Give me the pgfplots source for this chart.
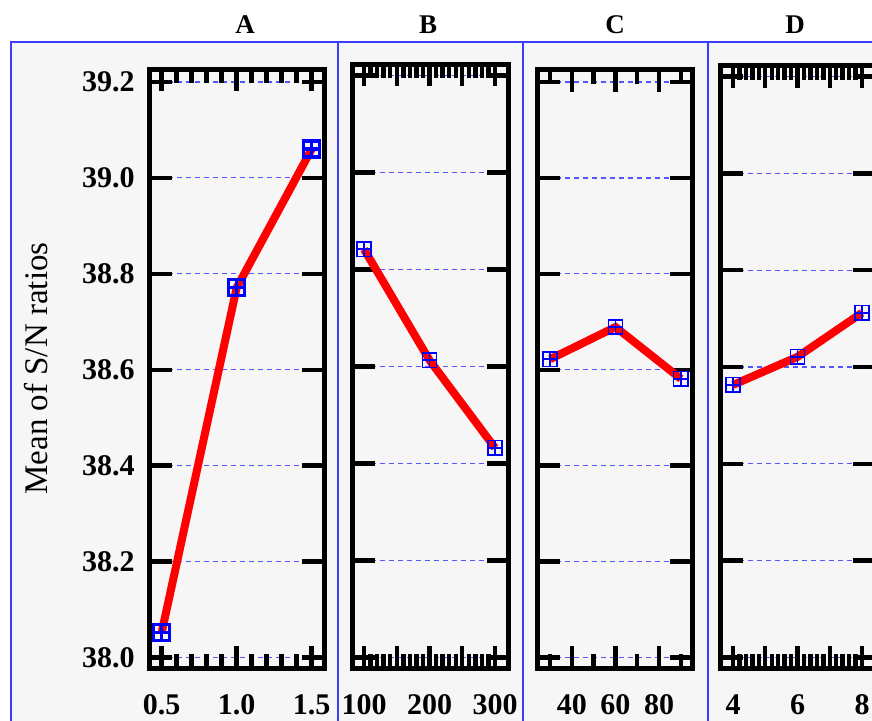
\documentclass[border=0pt]{standalone}
\usepackage{fontspec}
\setmainfont{Liberation Serif}
\usepackage{pgfplots}
\pgfplotsset{compat=1.18}
\definecolor{bgray}{RGB}{246,246,246}
\definecolor{boxblue}{RGB}{60,60,255}
\definecolor{gridblue}{RGB}{85,85,255}
\pgfdeclareplotmark{sqplus}{%
  \pgfpathrectangle{\pgfqpoint{-\pgfplotmarksize}{-\pgfplotmarksize}}{\pgfqpoint{2\pgfplotmarksize}{2\pgfplotmarksize}}%
  \pgfpathmoveto{\pgfqpoint{-\pgfplotmarksize}{0pt}}%
  \pgfpathlineto{\pgfqpoint{\pgfplotmarksize}{0pt}}%
  \pgfpathmoveto{\pgfqpoint{0pt}{-\pgfplotmarksize}}%
  \pgfpathlineto{\pgfqpoint{0pt}{\pgfplotmarksize}}%
  \pgfusepathqstroke}
\pgfplotsset{
  panel/.style={
    scale only axis, anchor=south west,
    axis line style={line width=2.5pt, line cap=rect, black},
    tick align=inside, tick pos=both, ticklabel pos=left,
    major tick length=11pt, minor tick length=7pt,
    tick style={line width=2.2pt, black},
    ymajorgrids,
    major grid style={dash pattern=on 2.5pt off 2pt, gridblue, line width=0.6pt},
    ytick={38.0,38.2,38.4,38.6,38.8,39.0,39.2},
    yticklabels={,,,,,,},
    minor y tick num=0,
    ymin=37.978,
    tick label style={font=\fontsize{15}{15}\selectfont\bfseries},
    xticklabel style={anchor=north, inner sep=0pt, yshift=-13pt},
    yticklabel style={anchor=east, inner sep=0pt, xshift=-7.25pt},
    clip=false,
  },
  sn/.style={red, line width=4pt, mark=sqplus, mark size=3.6pt,
    mark options={blue, line width=0.75pt, fill=none, solid}},
}
\begin{document}
\begin{tikzpicture}
\path[use as bounding box, fill=white] (0,0) rectangle (436pt,360pt);
\begin{scope}
\clip (0,0) rectangle (436pt,360pt);
% outer blue box
\filldraw[fill=bgray, draw=boxblue, line width=1pt] (5.5pt,339pt) rectangle (470pt,-20pt);
\draw[boxblue, line width=1pt] (169pt,339pt) -- (169pt,-20pt);
\draw[boxblue, line width=1pt] (261.5pt,339pt) -- (261.5pt,-20pt);
\draw[boxblue, line width=1pt] (354pt,339pt) -- (354pt,-20pt);
% titles
\node[font=\fontsize{13.5}{13.5}\selectfont\bfseries] at (122.5pt,347.5pt) {A};
\node[font=\fontsize{13.5}{13.5}\selectfont\bfseries] at (214pt,347.5pt) {B};
\node[font=\fontsize{13.5}{13.5}\selectfont\bfseries] at (307.5pt,347.5pt) {C};
\node[font=\fontsize{13.5}{13.5}\selectfont\bfseries] at (397.5pt,347.5pt) {D};
\node[rotate=90, font=\fontsize{16.5}{16.5}\selectfont] at (18.25pt,175.75pt) {Mean of S/N ratios};
% A
\begin{axis}[panel, at={(74.75pt,26pt)}, width=87.25pt, height=299.5pt,
  xmin=0.419, xmax=1.582, ymax=39.227,
  xtick={0.5,1.0,1.5}, xticklabels={0.5,1.0,1.5}, minor x tick num=4,
  yticklabels={38.0,38.2,38.4,38.6,38.8,39.0,39.2}]
\addplot[sn, mark size=4pt, mark options={blue, line width=1.6pt, fill=none, solid}] coordinates {(0.5,38.052) (1.0,38.771) (1.5,39.06)};
\end{axis}
% B
\begin{axis}[panel, at={(176.25pt,26pt)}, width=78pt, height=302pt,
  xmin=82.4, xmax=320.6, ymax=39.224,
  xtick={100,150,200,250,300}, xticklabels={100,,200,,300}, minor x tick num=4]
\addplot[sn] coordinates {(100,38.842) (200,38.613) (300,38.432)};
\end{axis}
% C
\begin{axis}[panel, at={(268.75pt,26pt)}, width=77.25pt, height=299pt,
  xmin=24.25, xmax=95.1, ymax=39.225,
  xtick={40,60,80}, xticklabels={40,60,80}, minor xtick={30,50,70,90}]
\addplot[sn] coordinates {(30,38.622) (60,38.689) (90,38.581)};
\end{axis}
% D
\begin{axis}[panel, at={(360.25pt,26pt)}, width=77pt, height=301.25pt,
  xmin=3.612, xmax=8.388, ymax=39.223,
  xtick={4,5,6,7,8}, xticklabels={4,,6,,8}, minor x tick num=4]
\addplot[sn] coordinates {(4,38.563) (6,38.621) (8,38.712)};
\end{axis}
\end{scope}
\end{tikzpicture}
\end{document}
